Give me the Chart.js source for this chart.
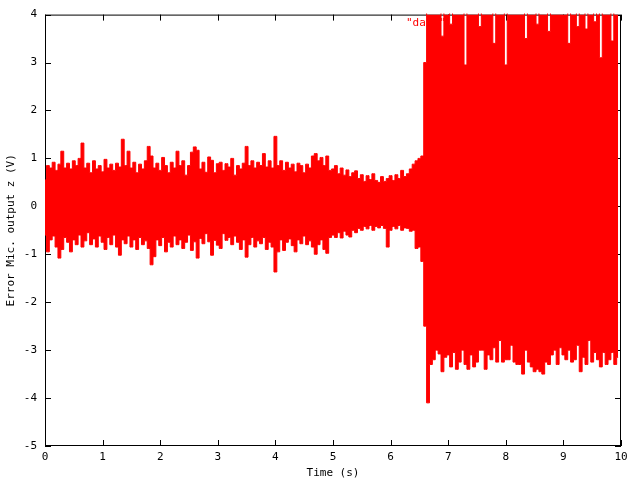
<!DOCTYPE html>
<html>
<head>
<meta charset="utf-8">
<title>Error Mic. output z</title>
<script src="https://cdn.jsdelivr.net/npm/chart.js@4.4.1/dist/chart.umd.min.js"></script>
<style>
	html, body { margin: 0; padding: 0; background: #fff; }
	#grafico { display: block; }
</style>
</head>
<body>
<canvas id="grafico" width="640" height="480"></canvas>
<script>
// intervalo entre amostras (s)
var PASSO = 0.05;

// envoltoria superior do sinal, uma leitura a cada PASSO segundos (V)
var superior = [
	0.55, 0.85, 0.80, 0.92, 0.75, 0.88, 1.15, 0.80, 0.90, 0.78,
	0.95, 0.85, 1.00, 1.32, 0.80, 0.90, 0.70, 0.95, 0.78, 0.85,
	0.72, 0.98, 0.80, 0.88, 0.75, 0.90, 0.82, 1.40, 0.85, 1.15,
	0.80, 0.92, 0.70, 0.88, 0.78, 0.95, 1.25, 1.05, 0.80, 0.90,
	0.75, 1.02, 0.85, 0.70, 0.92, 0.80, 1.15, 0.85, 0.95, 0.65,
	0.85, 1.13, 1.24, 1.17, 0.78, 0.92, 0.71, 1.03, 0.96, 0.70,
	0.89, 0.92, 0.75, 0.89, 0.82, 1.00, 0.65, 0.85, 0.78, 0.90,
	1.25, 0.85, 0.95, 0.80, 0.92, 0.85, 1.10, 0.82, 0.95, 0.80,
	1.46, 0.85, 0.95, 0.75, 0.92, 0.80, 0.88, 0.72, 0.90, 0.85,
	0.70, 0.88, 0.80, 1.05, 1.10, 0.95, 1.02, 0.85, 1.05, 0.75,
	0.78, 0.85, 0.68, 0.80, 0.65, 0.76, 0.62, 0.70, 0.74, 0.58,
	0.66, 0.52, 0.64, 0.56, 0.68, 0.54, 0.50, 0.62, 0.52, 0.58,
	0.64, 0.54, 0.66, 0.58, 0.75, 0.62, 0.68, 0.78, 0.88, 0.95,
	1.00, 1.05, 3.00, 4.50, 4.50, 4.50, 4.50, 4.50, 3.55, 4.50,
	4.50, 3.80, 4.50, 4.50, 4.50, 4.50, 2.95, 4.50, 4.50, 4.50,
	4.50, 3.75, 4.50, 4.50, 4.50, 4.50, 3.40, 4.50, 4.50, 4.50,
	2.95, 4.50, 4.50, 4.50, 4.50, 4.50, 4.50, 3.50, 4.50, 4.50,
	4.50, 3.80, 4.50, 4.50, 4.50, 3.65, 4.50, 4.50, 4.50, 4.50,
	4.50, 4.50, 3.40, 4.50, 4.50, 3.75, 4.50, 4.50, 3.70, 4.50,
	4.50, 3.85, 4.50, 3.10, 4.50, 4.50, 4.50, 3.45, 4.50, 4.50
];

// envoltoria inferior do sinal (V)
var inferior = [
	-0.60, -0.95, -0.70, -0.62, -0.85, -1.08, -0.90, -0.65, -0.75, -0.95,
	-0.70, -0.80, -0.60, -0.85, -0.72, -0.55, -0.80, -0.68, -0.85, -0.62,
	-0.75, -0.90, -0.65, -0.80, -0.60, -0.85, -1.02, -0.70, -0.78, -0.62,
	-0.85, -0.70, -0.90, -0.65, -0.80, -0.72, -0.88, -1.22, -1.05, -0.70,
	-0.82, -0.65, -0.95, -0.75, -0.85, -0.62, -0.80, -0.70, -0.88, -0.75,
	-0.60, -0.92, -0.74, -1.08, -0.67, -0.78, -0.57, -0.74, -1.02, -0.71,
	-0.81, -0.88, -0.57, -0.71, -0.65, -0.80, -0.62, -0.75, -0.90, -0.70,
	-1.06, -0.80, -0.65, -0.85, -0.72, -0.78, -0.65, -0.90, -0.75, -0.85,
	-1.37, -0.95, -0.70, -0.92, -0.75, -0.68, -0.82, -0.95, -0.70, -0.78,
	-0.62, -0.80, -0.72, -0.85, -1.00, -0.80, -0.70, -0.90, -0.98, -0.65,
	-0.60, -0.65, -0.55, -0.66, -0.52, -0.60, -0.64, -0.50, -0.55, -0.46,
	-0.50, -0.42, -0.47, -0.40, -0.50, -0.42, -0.45, -0.40, -0.46, -0.85,
	-0.50, -0.42, -0.47, -0.40, -0.50, -0.45, -0.46, -0.52, -0.50, -0.88,
	-0.85, -1.15, -2.50, -4.10, -3.30, -3.20, -3.00, -3.08, -3.45, -3.15,
	-3.10, -3.35, -3.05, -3.40, -3.25, -3.00, -3.30, -3.40, -3.10, -3.35,
	-3.25, -3.00, -3.00, -3.40, -3.10, -3.20, -2.95, -3.25, -2.80, -3.25,
	-3.20, -3.20, -2.90, -3.25, -3.30, -3.30, -3.50, -3.00, -3.25, -3.35,
	-3.45, -3.40, -3.45, -3.50, -3.25, -3.30, -3.10, -3.00, -3.30, -2.95,
	-3.10, -3.20, -3.00, -3.25, -3.20, -2.90, -3.45, -3.15, -3.30, -2.80,
	-3.25, -3.05, -3.20, -3.35, -3.05, -3.30, -3.20, -3.05, -3.30, -3.15
];

var ticksX = [0, 1, 2, 3, 4, 5, 6, 7, 8, 9, 10];
var ticksY = [-5, -4, -3, -2, -1, 0, 1, 2, 3, 4];

var legenda = '"data"';
var tituloX = 'Time (s)';
var tituloY = 'Error Mic. output z (V)';

var Sinal = Sinal || {};

Sinal.Grafico = (function() {

	var FONTE = { family: '"DejaVu Sans Mono", monospace', size: 11 };
	var VERMELHO = '#ff0000';

	function Grafico() {
		this.ctx = document.getElementById('grafico');
	}

	function pontos(valores) {
		return valores.map(function(v, i) {
			return { x: i * PASSO, y: v };
		});
	}

	function fixarTicks(lista) {
		return function(scale) {
			scale.ticks = lista.map(function(v) { return { value: v }; });
		};
	}

	// moldura do gnuplot: borda e marcas de escala para dentro, nos quatro lados
	var moldura = {
		id: 'moldura',
		beforeDatasetsDraw: function(chart) {
			var ctx = chart.ctx;
			var a = chart.chartArea;
			var sx = chart.scales.x;
			var sy = chart.scales.y;
			ctx.save();
			ctx.strokeStyle = '#000';
			ctx.lineWidth = 1;
			ctx.strokeRect(a.left + 0.5, a.top + 0.5, a.right - a.left - 1, a.bottom - a.top - 1);
			ctx.beginPath();
			ticksX.forEach(function(v) {
				var x = Math.round(sx.getPixelForValue(v)) + 0.5;
				ctx.moveTo(x, a.bottom);
				ctx.lineTo(x, a.bottom - 6);
				ctx.moveTo(x, a.top);
				ctx.lineTo(x, a.top + 6);
			});
			ticksY.forEach(function(v) {
				var y = Math.round(sy.getPixelForValue(v)) + 0.5;
				ctx.moveTo(a.left, y);
				ctx.lineTo(a.left + 6, y);
				ctx.moveTo(a.right, y);
				ctx.lineTo(a.right - 6, y);
			});
			ctx.stroke();

			// chave do gnuplot, quase toda coberta pelo sinal
			ctx.fillStyle = VERMELHO;
			ctx.font = FONTE.size + 'px ' + FONTE.family;
			ctx.textAlign = 'left';
			ctx.textBaseline = 'middle';
			ctx.fillText(legenda, a.right - 215, a.top + 9);
			ctx.restore();
		}
	};

	Grafico.prototype.iniciar = function() {
		new Chart(this.ctx, {
			type: 'line',
			data: {
				datasets: [{
					label: 'inferior',
					data: pontos(inferior),
					borderColor: VERMELHO,
					borderWidth: 1,
					pointRadius: 0,
					stepped: 'middle',
					fill: false,
					clip: 1
				},
				{
					label: 'superior',
					data: pontos(superior),
					borderColor: VERMELHO,
					backgroundColor: VERMELHO,
					borderWidth: 1,
					pointRadius: 0,
					stepped: 'middle',
					fill: '-1',
					clip: 1
				}]
			},
			options: {
				responsive: false,
				animation: false,
				devicePixelRatio: 1,
				layout: { padding: { top: 13, right: 19, bottom: 0, left: 0 } },
				elements: { line: { tension: 0 } },
				plugins: {
					legend: { display: false },
					tooltip: { enabled: false }
				},
				scales: {
					x: {
						type: 'linear',
						min: 0,
						max: 10,
						afterBuildTicks: fixarTicks(ticksX),
						afterFit: function(scale) { scale.height = 34; },
						grid: { display: false, drawTicks: false },
						border: { display: false },
						ticks: { font: FONTE, color: '#000', padding: 5, maxRotation: 0, autoSkip: false },
						title: { display: true, text: tituloX, font: FONTE, color: '#000', padding: { top: 2, bottom: 0 } }
					},
					y: {
						min: -5,
						max: 4,
						afterBuildTicks: fixarTicks(ticksY),
						afterFit: function(scale) { scale.width = 45; },
						grid: { display: false, drawTicks: false },
						border: { display: false },
						ticks: { font: FONTE, color: '#000', padding: 8, autoSkip: false },
						title: { display: true, text: tituloY, font: FONTE, color: '#000', padding: { top: 5, bottom: 2 } }
					}
				}
			},
			plugins: [moldura]
		});
	};

	return Grafico;
}());

window.addEventListener('load', function() {
	var grafico = new Sinal.Grafico();
	grafico.iniciar();
});
</script>
</body>
</html>
